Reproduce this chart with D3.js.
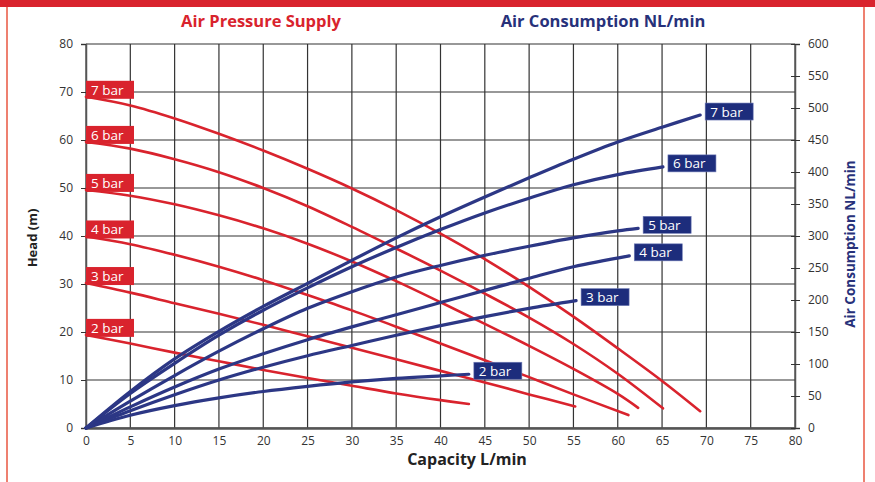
<!DOCTYPE html>
<html>
<head>
<meta charset="utf-8">
<script src="https://cdn.jsdelivr.net/npm/d3@7"></script>
<style>
  body { margin: 0; background: #fff; }
  text { font-family: "Open Sans", sans-serif; }
</style>
</head>
<body>
<div id="chart"></div>
<script>
// Tick values
var capTicks = [0, 5, 10, 15, 20, 25, 30, 35, 40, 45, 50, 55, 60, 65, 70, 75, 80];
var headTicks = [0, 10, 20, 30, 40, 50, 60, 70, 80];
var airTicks = [0, 50, 100, 150, 200, 250, 300, 350, 400, 450, 500, 550, 600];

var pressures = ["2 bar", "3 bar", "4 bar", "5 bar", "6 bar", "7 bar"];

// Head (m) vs capacity, one per supply pressure
var headCap2 = [0, 5, 10, 15, 20, 25, 30, 35, 40, 43.2];
var head2 = [19.4, 17.6, 15.7, 13.9, 12.1, 10.4, 8.8, 7.2, 5.8, 5.0];
var headCap3 = [0, 5, 10, 15, 20, 25, 30, 35, 40, 45, 50, 55.2];
var head3 = [30.2, 28.2, 26, 23.8, 21.5, 19.1, 16.7, 14.3, 11.9, 9.5, 7, 4.5];
var headCap4 = [0, 5, 10, 15, 20, 25, 30, 35, 40, 45, 50, 55, 61.2];
var head4 = [39.9, 38.3, 36.1, 33.6, 30.8, 27.7, 24.5, 21.1, 17.6, 14.1, 10.6, 7, 2.7];
var headCap5 = [0, 5, 10, 15, 20, 25, 30, 35, 40, 45, 50, 55, 60, 62.3];
var head5 = [49.6, 48.4, 46.6, 44.3, 41.6, 38.4, 34.7, 30.6, 26.2, 21.7, 17.1, 12.3, 7.1, 4.2];
var headCap6 = [0, 5, 10, 15, 20, 25, 30, 35, 40, 45, 50, 55, 60, 65.1];
var head6 = [59.6, 58.2, 56, 53.3, 50, 46.2, 41.9, 37.4, 32.8, 28, 23, 17.5, 11.3, 4.1];
var headCap7 = [0, 5, 10, 15, 20, 25, 30, 35, 40, 45, 50, 55, 60, 65, 69.3];
var head7 = [69, 67.2, 64.5, 61.3, 57.8, 54, 49.9, 45.4, 40.5, 35.2, 29.4, 23.2, 16.6, 9.8, 3.5];

// Air consumption (NL/min) vs capacity
var airCap2 = [0, 5, 10, 15, 20, 25, 30, 35, 40, 43.2];
var air2 = [0, 20, 35, 47, 57, 65, 72, 77.5, 81.5, 84];
var airCap3 = [0, 5, 10, 15, 20, 25, 30, 35, 40, 45, 50, 55.3];
var air3 = [0, 27, 52, 75, 95, 113, 129, 145, 160, 174, 187, 199];
var airCap4 = [0, 5, 10, 15, 20, 25, 30, 35, 40, 45, 50, 55, 61.3];
var air4 = [0, 33, 64, 92, 116, 138, 158, 177, 196, 215, 234, 252, 269];
var airCap5 = [0, 5, 10, 15, 20, 25, 30, 35, 40, 45, 50, 55, 60, 62.3];
var air5 = [0, 42, 82, 120, 155, 187, 213, 236, 254, 270, 284, 297, 308, 312];
var airCap6 = [0, 5, 10, 15, 20, 25, 30, 35, 40, 45, 50, 55, 60, 65.1];
var air6 = [0, 54, 101, 145, 184, 219, 252, 282, 310, 336, 359, 380, 396, 408];
var airCap7 = [0, 5, 10, 15, 20, 25, 30, 35, 40, 45, 50, 55, 60, 65, 69.3];
var air7 = [0, 57, 108, 151, 190, 226, 262, 297, 330, 361, 391, 420, 447, 470, 489];

var headCaps = [headCap2, headCap3, headCap4, headCap5, headCap6, headCap7];
var heads = [head2, head3, head4, head5, head6, head7];
var airCaps = [airCap2, airCap3, airCap4, airCap5, airCap6, airCap7];
var airs = [air2, air3, air4, air5, air6, air7];

var red = "#d9232d";
var navy = "#2c3785";
var boxNavy = "#1d2d7c";

var svgWidth = 875;
var svgHeight = 482;

var svg = d3.select("#chart").append("svg")
            .attr("width", svgWidth)
            .attr("height", svgHeight);

// Frame: red top band and thin side borders
svg.append("rect").attr("x", 0).attr("y", 0).attr("width", svgWidth).attr("height", 7).attr("fill", red);
svg.append("line").attr("x1", 7).attr("x2", 7).attr("y1", 7).attr("y2", svgHeight)
   .attr("stroke", "#ee8070").attr("stroke-width", 2);
svg.append("line").attr("x1", 864).attr("x2", 864).attr("y1", 7).attr("y2", svgHeight)
   .attr("stroke", "#ee8070").attr("stroke-width", 2);

// Scales
var xScale = d3.scaleLinear().domain([0, 80]).range([86, 795]);
var yHead = d3.scaleLinear().domain([0, 80]).range([428, 44]);
var yAir = d3.scaleLinear().domain([0, 600]).range([428, 44]);

// Grid
var grid = svg.append("g");
grid.selectAll(".vgrid").data(capTicks).enter().append("line")
    .attr("x1", d => xScale(d)).attr("x2", d => xScale(d))
    .attr("y1", yHead(80)).attr("y2", yHead(0))
    .attr("stroke", "#333").attr("stroke-width", 1.2);
grid.selectAll(".hgrid").data(headTicks).enter().append("line")
    .attr("x1", xScale(0)).attr("x2", xScale(80))
    .attr("y1", d => yHead(d)).attr("y2", d => yHead(d))
    .attr("stroke", "#333").attr("stroke-width", 1.2);

// Axes
var leftAxis = svg.append("g")
    .attr("transform", `translate(${xScale(0)},0)`)
    .call(d3.axisLeft(yHead).tickValues(headTicks).tickSize(5).tickPadding(8));
var bottomAxis = svg.append("g")
    .attr("transform", `translate(0,${yHead(0)})`)
    .call(d3.axisBottom(xScale).tickValues(capTicks).tickSize(0).tickPadding(8));
var rightAxis = svg.append("g")
    .attr("transform", `translate(${xScale(80)},0)`)
    .call(d3.axisRight(yAir).tickValues(airTicks).tickSize(5).tickPadding(8));
rightAxis.selectAll(".tick").append("line")
    .attr("x1", -4).attr("x2", 0).attr("stroke", "#333");

[leftAxis, bottomAxis, rightAxis].forEach(function(ax) {
  ax.select(".domain").attr("stroke", "#555").attr("stroke-width", 1.5);
  ax.selectAll("text").attr("font-size", "12px").attr("fill", "#333")
    .style("font-family", "'Open Sans', sans-serif");
  ax.selectAll(".tick line").attr("stroke", "#333");
});
bottomAxis.select(".domain").attr("stroke-width", 2.5);

// Curve generators
var headLine = d3.line().curve(d3.curveCatmullRom.alpha(0.5))
    .x(d => xScale(d[0])).y(d => yHead(d[1]));
var airLine = d3.line().curve(d3.curveCatmullRom.alpha(0.5))
    .x(d => xScale(d[0])).y(d => yAir(d[1]));

// Head curves (red)
pressures.forEach(function(p, i) {
  var pts = headCaps[i].map((c, j) => [c, heads[i][j]]);
  svg.append("path").attr("d", headLine(pts))
     .attr("fill", "none").attr("stroke", red).attr("stroke-width", 2.6)
     .attr("stroke-linecap", "round");
});

// Air consumption curves (navy)
pressures.forEach(function(p, i) {
  var pts = airCaps[i].map((c, j) => [c, airs[i][j]]);
  svg.append("path").attr("d", airLine(pts))
     .attr("fill", "none").attr("stroke", navy).attr("stroke-width", 3.2)
     .attr("stroke-linecap", "round");
});

// Red labels at start of head curves
pressures.forEach(function(p, i) {
  var y0 = yHead(heads[i][0]);
  svg.append("rect").attr("x", xScale(0)).attr("y", y0 - 16)
     .attr("width", 48).attr("height", 18).attr("fill", red);
  svg.append("text").attr("x", xScale(0) + 5).attr("y", y0 - 2)
     .attr("fill", "#fff").attr("font-size", "13.5px").text(p);
});

// Navy labels at end of air curves
pressures.forEach(function(p, i) {
  var n = airCaps[i].length - 1;
  var xe = xScale(airCaps[i][n]);
  var ye = yAir(airs[i][n]);
  svg.append("rect").attr("x", xe + 5).attr("y", ye - 12)
     .attr("width", 48).attr("height", 17).attr("fill", boxNavy)
     .attr("stroke", "#6f7bb5").attr("stroke-width", 0.6);
  svg.append("text").attr("x", xe + 10).attr("y", ye + 1.5)
     .attr("fill", "#fff").attr("font-size", "13.5px").text(p);
});

// Titles
svg.append("text").attr("x", 261).attr("y", 27).attr("text-anchor", "middle")
   .attr("font-weight", "bold").attr("font-size", "16.5px").attr("fill", red)
   .text("Air Pressure Supply");
svg.append("text").attr("x", 603).attr("y", 27).attr("text-anchor", "middle")
   .attr("font-weight", "bold").attr("font-size", "16.5px").attr("fill", "#27317a")
   .text("Air Consumption NL/min");

// Axis titles
svg.append("text").attr("x", 467).attr("y", 465).attr("text-anchor", "middle")
   .attr("font-weight", "bold").attr("font-size", "16px").attr("fill", "#222")
   .text("Capacity L/min");
svg.append("text").attr("transform", "translate(37,238) rotate(-90)")
   .attr("text-anchor", "middle").attr("font-weight", "bold").attr("font-size", "13px")
   .attr("fill", "#222").text("Head (m)");
svg.append("text").attr("transform", "translate(855,244) rotate(-90)")
   .attr("text-anchor", "middle").attr("font-weight", "bold").attr("font-size", "13.5px")
   .attr("fill", "#27317a").text("Air Consumption NL/min");
</script>
</body>
</html>
